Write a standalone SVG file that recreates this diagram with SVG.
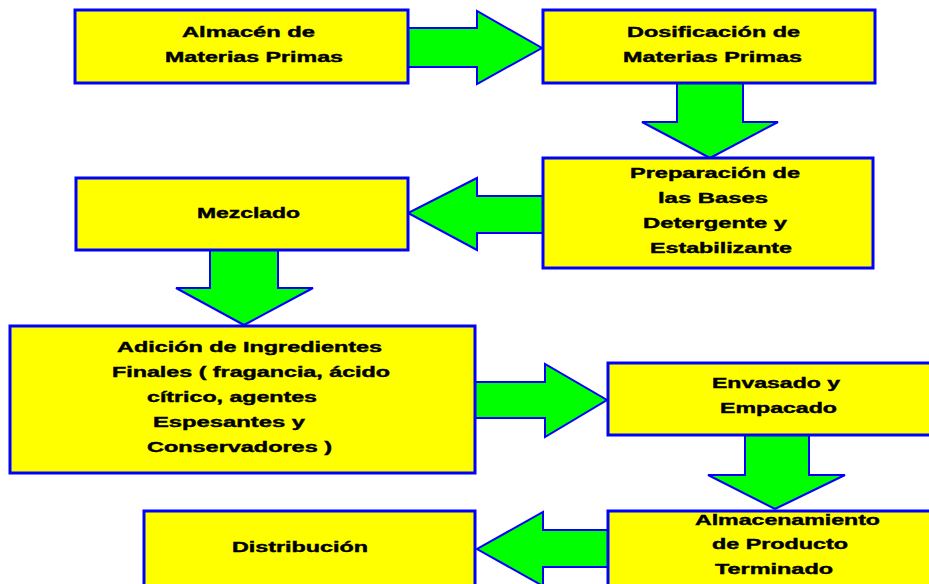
<svg xmlns="http://www.w3.org/2000/svg" width="929" height="584" viewBox="0 0 929 584">
  <style>
    .box { fill: #ffff00; stroke: #0000ff; stroke-width: 3; }
    .arrow { fill: #00ff00; stroke: #0000ff; stroke-width: 2; stroke-linejoin: miter; }
    .label { font-family: "Liberation Sans", Arial, sans-serif; font-size: 14px; font-weight: bold; fill: #000000; stroke: #000000; stroke-width: 0.4; text-anchor: middle; }
  </style>
  <rect width="929" height="584" fill="#ffffff"/>

  <!-- block arrows between the process steps -->
  <g id="connectors">
    <polygon class="arrow" points="408,28 477,28 477,11 542,48 477,84 477,67 408,67"/>
    <polygon class="arrow" points="677,83 743,83 743,122 778,122 710,158 642,122 677,122"/>
    <polygon class="arrow" points="543,196 477,196 477,178 408,213 477,250 477,233 543,233"/>
    <polygon class="arrow" points="210,250 278,250 278,288 313,288 244,325 176,288 210,288"/>
    <polygon class="arrow" points="475,382 545,382 545,364 607,400 545,437 545,418 475,418"/>
    <polygon class="arrow" points="745,435 809,435 809,475 845,475 775,509 708,475 745,475"/>
    <polygon class="arrow" points="608,530 543,530 543,512 477,549 543,586 543,567 608,567"/>
  </g>

  <g id="almacen-materias">
    <rect class="box" x="75" y="10" width="333" height="73"/>
    <text class="label" x="248.5" y="37" textLength="133" lengthAdjust="spacingAndGlyphs">Almacén de</text>
    <text class="label" x="254" y="62" textLength="178" lengthAdjust="spacingAndGlyphs">Materias Primas</text>
  </g>

  <g id="dosificacion">
    <rect class="box" x="543" y="10" width="332" height="73"/>
    <text class="label" x="713.5" y="37" textLength="173" lengthAdjust="spacingAndGlyphs">Dosificación de</text>
    <text class="label" x="712.5" y="62" textLength="179" lengthAdjust="spacingAndGlyphs">Materias Primas</text>
  </g>

  <g id="preparacion">
    <rect class="box" x="543" y="158" width="330" height="110"/>
    <text class="label" x="715" y="178" textLength="170" lengthAdjust="spacingAndGlyphs">Preparación de</text>
    <text class="label" x="713" y="203" textLength="110" lengthAdjust="spacingAndGlyphs">las Bases</text>
    <text class="label" x="715" y="228" textLength="144" lengthAdjust="spacingAndGlyphs">Detergente y</text>
    <text class="label" x="721" y="253" textLength="142" lengthAdjust="spacingAndGlyphs">Estabilizante</text>
  </g>

  <g id="mezclado">
    <rect class="box" x="76" y="178" width="332" height="72"/>
    <text class="label" x="248.5" y="218" textLength="103" lengthAdjust="spacingAndGlyphs">Mezclado</text>
  </g>

  <g id="adicion">
    <rect class="box" x="10" y="326" width="465" height="147"/>
    <text class="label" x="249.5" y="352" textLength="265" lengthAdjust="spacingAndGlyphs">Adición de Ingredientes</text>
    <text class="label" x="251" y="377" textLength="278" lengthAdjust="spacingAndGlyphs">Finales ( fragancia, ácido</text>
    <text class="label" x="232" y="402" textLength="170" lengthAdjust="spacingAndGlyphs">cítrico, agentes</text>
    <text class="label" x="229" y="427" textLength="152" lengthAdjust="spacingAndGlyphs">Espesantes y</text>
    <text class="label" x="239.5" y="452" textLength="185" lengthAdjust="spacingAndGlyphs">Conservadores )</text>
  </g>

  <g id="envasado">
    <rect class="box" x="608" y="363" width="330" height="72"/>
    <text class="label" x="776" y="388" textLength="128" lengthAdjust="spacingAndGlyphs">Envasado y</text>
    <text class="label" x="778.5" y="413" textLength="117" lengthAdjust="spacingAndGlyphs">Empacado</text>
  </g>

  <g id="almacenamiento">
    <rect class="box" x="608" y="511" width="330" height="80"/>
    <text class="label" x="787.5" y="525" textLength="185" lengthAdjust="spacingAndGlyphs">Almacenamiento</text>
    <text class="label" x="780" y="549" textLength="136" lengthAdjust="spacingAndGlyphs">de Producto</text>
    <text class="label" x="774" y="574" textLength="118" lengthAdjust="spacingAndGlyphs">Terminado</text>
  </g>

  <g id="distribucion">
    <rect class="box" x="144" y="511" width="331" height="80"/>
    <text class="label" x="300" y="552" textLength="136" lengthAdjust="spacingAndGlyphs">Distribución</text>
  </g>
</svg>
